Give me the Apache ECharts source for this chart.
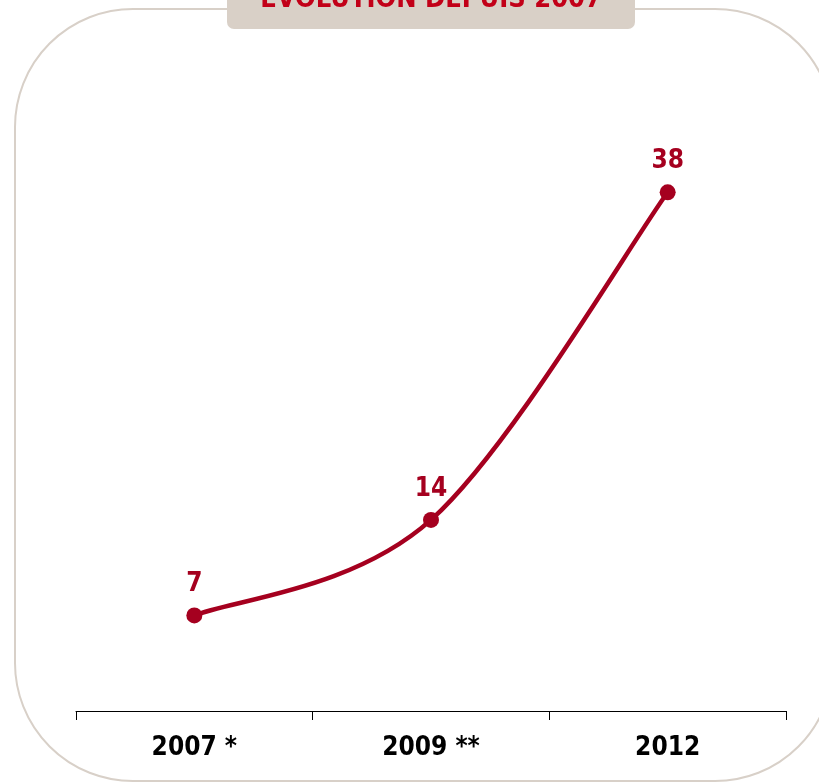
<!DOCTYPE html>
<html>
<head>
<meta charset="utf-8">
<style>
  html, body { margin: 0; padding: 0; background: #ffffff; }
  #chart { width: 819px; height: 783px; }
</style>
<script src="https://cdn.jsdelivr.net/npm/echarts@6/dist/echarts.min.js"></script>
</head>
<body>
<div id="chart"></div>
<script>
// Number of cases per survey year
const years = ['2007 *', '2009 **', '2012'];
const counts = [7, 14, 38];
const titleText = 'ÉVOLUTION DEPUIS 2007';

const RED = '#a5001f';
const FONT = '"DejaVu Sans Condensed", "DejaVu Sans", sans-serif';

// Cardinal (Catmull-Rom) segment from point i to i+1, endpoints reuse themselves as neighbours
function renderSegment(params, api) {
  const i = params.dataIndex;
  if (i >= counts.length - 1) return null;
  const pt = (j) => {
    const k = Math.max(0, Math.min(counts.length - 1, j));
    return api.coord([k, counts[k]]);
  };
  const p0 = pt(i - 1), p1 = pt(i), p2 = pt(i + 1), p3 = pt(i + 2);
  const c1 = [p1[0] + (p2[0] - p0[0]) / 6, p1[1] + (p2[1] - p0[1]) / 6];
  const c2 = [p2[0] - (p3[0] - p1[0]) / 6, p2[1] - (p3[1] - p1[1]) / 6];
  return {
    type: 'bezierCurve',
    shape: {
      x1: p1[0], y1: p1[1],
      cpx1: c1[0], cpy1: c1[1],
      cpx2: c2[0], cpy2: c2[1],
      x2: p2[0], y2: p2[1]
    },
    style: { stroke: RED, lineWidth: 4.5, fill: null, lineCap: 'round' }
  };
}

const chart = echarts.init(document.getElementById('chart'), null, { renderer: 'canvas' });

chart.setOption({
  animation: false,
  backgroundColor: '#ffffff',
  grid: { left: 76, right: 33, top: 165, bottom: 72 },
  xAxis: {
    type: 'category',
    data: years,
    boundaryGap: true,
    axisLine: { show: true, lineStyle: { color: '#000000', width: 1 } },
    axisTick: { show: true, length: 9, lineStyle: { color: '#000000', width: 1 } },
    axisLabel: {
      margin: 24,
      color: '#000000',
      fontFamily: FONT,
      fontWeight: 'bold',
      fontSize: 26
    },
    splitLine: { show: false }
  },
  yAxis: {
    type: 'value',
    min: 0,
    max: 40,
    show: false
  },
  series: [
    {
      type: 'custom',
      renderItem: renderSegment,
      data: counts.map((v, i) => [i, v]),
      z: 2
    },
    {
      type: 'line',
      data: counts,
      z: 3,
      symbol: 'circle',
      symbolSize: 16,
      lineStyle: { width: 0, opacity: 0 },
      itemStyle: { color: RED },
      label: {
        show: true,
        position: 'top',
        distance: 10,
        color: RED,
        fontFamily: FONT,
        fontWeight: 'bold',
        fontSize: 26
      }
    }
  ],
  graphic: [
    {
      type: 'rect',
      z: -10,
      shape: { x: 15, y: 9, width: 818, height: 772, r: 118 },
      style: { fill: 'none', stroke: '#d8d0c8', lineWidth: 2 }
    },
    {
      type: 'rect',
      z: 10,
      shape: { x: 227, y: -10, width: 408, height: 39, r: [0, 0, 7, 7] },
      style: { fill: '#d9d0c7' }
    },
    {
      type: 'text',
      z: 11,
      x: 431,
      y: 0,
      style: {
        text: titleText,
        fill: '#c20018',
        font: 'bold 27px ' + FONT,
        align: 'center',
        verticalAlign: 'middle'
      }
    }
  ]
});
</script>
</body>
</html>
